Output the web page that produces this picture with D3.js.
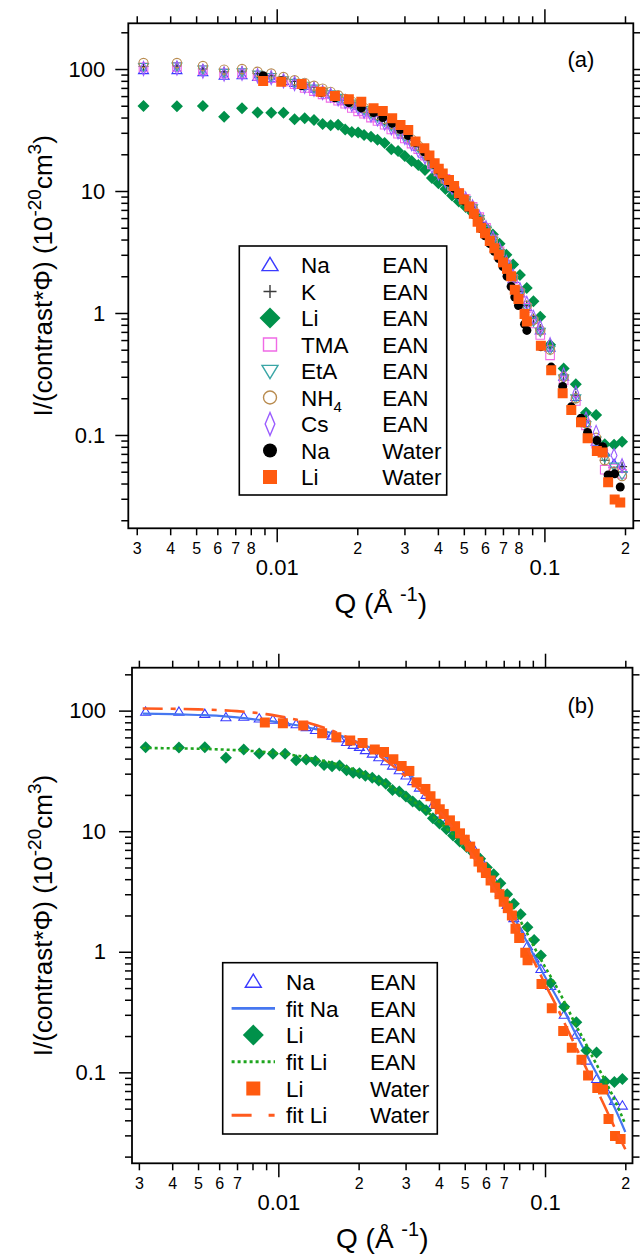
<!DOCTYPE html>
<html>
<head>
<meta charset="utf-8">
<script src="https://cdn.jsdelivr.net/npm/d3@7"></script>
<style>
  body { margin: 0; background: #fff; }
  svg { display: block; font-family: "Liberation Sans", Arial, sans-serif; }
</style>
</head>
<body>
<div id="vis"></div>
<script>

// ---- data ----

// Q grid of the EAN samples (A^-1)
var qEAN = [0.00318, 0.00424, 0.0053, 0.00636, 0.00742, 0.00848, 0.00954, 0.0106, 0.01166, 0.01272,
  0.01378, 0.01484, 0.0159, 0.01696, 0.01802, 0.01908, 0.02014, 0.0212, 0.0225, 0.0238,
  0.0253, 0.0268, 0.0284, 0.0301, 0.0319, 0.0338, 0.0358, 0.038, 0.0402, 0.0427,
  0.0452, 0.0479, 0.0508, 0.0539, 0.0571, 0.0605, 0.0642, 0.068, 0.0721, 0.0764,
  0.081, 0.0859, 0.091, 0.0965, 0.105, 0.118, 0.131, 0.143, 0.156, 0.168, 0.182, 0.195];

var iNaEAN = [98, 98, 94, 88, 89, 86, 84, 80, 77, 73, 69, 65, 62, 59, 55, 52, 50, 47,
  44, 41, 38, 35, 32, 29, 26, 23, 20, 16.5, 14, 12, 10.5, 9.3, 8.4, 7.2, 5.9, 4.8, 3.9, 3.1, 2.45, 1.9, 1.45, 1.12, 0.88,
  0.72, 0.52, 0.30, 0.205, 0.125, 0.088, 0.072, 0.058, 0.053];
var iKEAN = [105, 106, 100, 95, 96, 92, 88, 83, 79, 75, 71, 67, 63, 60, 56, 53, 50, 47,
  44, 41, 38, 35, 32, 29, 26, 23, 20, 17, 14.3, 12.2, 10.6, 9.4, 8.5, 7.3, 6.0, 4.9, 4.0, 3.2, 2.5, 1.95, 1.5, 1.15, 0.9,
  0.74, 0.53, 0.31, 0.21, 0.13, 0.09, 0.062, 0.05, 0.055];
var iLiEAN = [49.8, 49.5, 49.8, 40.7, 47.6, 44.1, 43.8, 43.8, 38.7, 39.4, 38.2, 35.4, 34.6, 35, 32, 30.5, 30.2, 28.8,
  27.8, 26.3, 24.8, 22, 21.3, 19.4, 17.6, 16.3, 14.9, 12.8, 11.6, 10.4, 9.2, 8.2, 7.4, 6.6, 5.9, 5.0, 4.4, 3.7, 3.0, 2.5, 2.05, 1.6, 1.25,
  0.93, 0.55, 0.35, 0.26, 0.152, 0.146, 0.084, 0.083, 0.088];
var iTMAEAN = [103, 104, 98, 92, 92, 88, 84, 79, 75, 70, 66, 62, 58, 55, 52, 48, 45, 43,
  40, 37.5, 35, 32, 29.5, 27, 24.5, 22, 19.5, 16.5, 14.5, 12.6, 11, 9.6, 8.6, 7.4, 6.1, 5.0, 4.0, 3.2, 2.5, 1.9, 1.45, 1.1, 0.82,
  0.66, 0.45, 0.28, 0.19, 0.12, 0.085, 0.052, 0.053, 0.048];
var iEtAEAN = [104, 105, 99, 93, 94, 90, 86, 81, 77, 73, 69, 65, 62, 58, 55, 52, 49, 46,
  43, 40, 37, 34, 31, 28, 25.5, 22.5, 19.5, 16.5, 14, 12, 10.5, 9.3, 8.4, 7.2, 5.9, 4.8, 3.9, 3.1, 2.45, 1.9, 1.45, 1.1, 0.85,
  0.7, 0.5, 0.29, 0.2, 0.12, 0.09, 0.065, 0.055, 0.047];
var iNH4EAN = [112, 112, 106, 99, 100, 95, 92, 86, 81, 77, 73, 69, 65, 61, 57, 54, 51, 48,
  45, 42, 39, 35.5, 32.5, 29.5, 26.5, 23.5, 20.5, 17, 14.5, 12.4, 10.8, 9.5, 8.5, 7.3, 6.0, 4.9, 4.0, 3.2, 2.5, 1.95, 1.5, 1.15, 0.88,
  0.72, 0.5, 0.3, 0.2, 0.125, 0.095, 0.062, 0.05, 0.046];
var iCsEAN = [101, 102, 96, 91, 92, 88, 85, 80, 76, 72, 68, 64, 61, 57, 54, 51, 48, 45,
  42, 39, 36, 33, 30.5, 27.5, 24.5, 21.5, 19, 16, 14, 12.2, 10.7, 9.5, 8.6, 7.4, 6.1, 5.0, 4.1, 3.3, 2.6, 2.0, 1.55, 1.2, 0.92,
  0.76, 0.55, 0.31, 0.22, 0.135, 0.105, 0.075, 0.068, 0.056];

// Q grid of the water samples
var qWater = [0.0089, 0.0104, 0.0124, 0.0146, 0.0165, 0.0186, 0.0207, 0.023, 0.0249, 0.027,
  0.029, 0.031, 0.033, 0.0356, 0.0372, 0.0389, 0.0403, 0.0417, 0.044, 0.046,
  0.048, 0.05, 0.0524, 0.0545, 0.0563, 0.058, 0.06, 0.0625, 0.065, 0.0675,
  0.07, 0.0725, 0.0751, 0.0775, 0.08, 0.0843, 0.086, 0.097, 0.106, 0.117,
  0.126, 0.137, 0.145, 0.157, 0.165, 0.173, 0.183, 0.192];

var iNaWater = [88, 80, 73, 64, 58, 53, 48, 44, 40, 36, 32, 28.5, 25, 21, 19, 16.5, 14.8, 13.5, 11.8, 10.5,
  9.3, 8.3, 7.3, 6.4, 5.6, 4.9, 4.3, 3.7, 3.2, 2.8, 2.4, 2.0, 1.65, 1.35, 1.15, 0.81, 0.72, 0.53, 0.36, 0.25,
  0.17, 0.137, 0.105, 0.09, 0.08, 0.047, 0.048, 0.0375];
var iLiWater = [79.7, 78.7, 75.3, 65, 60, 56.4, 53.9, 47.6, 45.3, 39.5, 34.7, 31.6, 25.4, 22.4, 19.5, 16.9, 15.2, 13.9, 12.3, 11,
  9.6, 8.5, 7.45, 6.5, 5.6, 5.0, 4.5, 3.9, 3.4, 3.0, 2.6, 2.3, 2.0, 1.55, 1.3, 0.98, 0.85, 0.54, 0.34, 0.22,
  0.16, 0.127, 0.094, 0.074, 0.072, 0.041, 0.0296, 0.028];

// model fits, panel (b)
var qFit = [0.0031, 0.004, 0.005, 0.006, 0.007, 0.008, 0.009, 0.010, 0.011, 0.012,
  0.0135, 0.015, 0.0165, 0.018, 0.02, 0.022, 0.024, 0.026, 0.028, 0.030,
  0.033, 0.036, 0.039, 0.042, 0.045, 0.048, 0.052, 0.056, 0.06, 0.065,
  0.07, 0.075, 0.08, 0.086, 0.093, 0.1, 0.11, 0.12, 0.13, 0.14, 0.15, 0.165, 0.18, 0.2];
var fitNaEAN = [94.5, 93.5, 92, 90.5, 88, 85, 82.5, 80, 77.5, 75, 71, 67.5, 63.5, 59.5, 54.5, 49.5, 44.5, 40, 35.5, 31.5,
  26, 21.5, 17.5, 14.2, 11.5, 9.5, 7.5, 6.0, 4.75, 3.6, 2.75, 2.1, 1.6, 1.18, 0.84, 0.62, 0.43, 0.30, 0.21, 0.155,
  0.115, 0.078, 0.054, 0.032];
var fitLiEAN = [49, 48.7, 48.3, 47.7, 47, 46.2, 45.3, 44.3, 43.2, 42, 40, 38, 36, 34, 31.3, 28.6, 26, 23.8, 21.6, 19.6,
  16.9, 14.6, 12.6, 10.9, 9.5, 8.3, 6.95, 5.8, 4.85, 3.85, 3.05, 2.4, 1.88, 1.4, 1.0, 0.75, 0.52, 0.36, 0.25, 0.185,
  0.137, 0.092, 0.063, 0.037];
var fitLiWater = [104, 103.5, 102.5, 101, 99, 96.5, 93.5, 90, 86.5, 83, 77, 71.5, 66, 60.5, 53.5, 47.5, 42, 37, 32.5, 28.5,
  23.5, 19.3, 15.8, 13, 10.7, 8.8, 6.9, 5.4, 4.3, 3.2, 2.4, 1.85, 1.42, 1.05, 0.75, 0.54, 0.36, 0.24, 0.165, 0.118,
  0.086, 0.056, 0.037, 0.023];

// ticks
var xMajorTicks = [0.01, 0.1];
var xMajorLabels = ['0.01', '0.1'];
var xMinorTicks = [0.003, 0.004, 0.005, 0.006, 0.007, 0.008, 0.009,
  0.02, 0.03, 0.04, 0.05, 0.06, 0.07, 0.08, 0.09, 0.2];
var xMinorLabelsA = ['3', '4', '5', '6', '7', '8', '', '2', '3', '4', '5', '6', '7', '8', '', '2'];
var xMinorLabelsB = ['3', '4', '5', '6', '7', '', '', '2', '3', '4', '5', '6', '7', '', '', '2'];
var yMajorTicks = [0.1, 1, 10, 100];
var yMajorLabels = ['0.1', '1', '10', '100'];

// ---- styles ----
var seriesA = [
  { name: 'Na', solvent: 'EAN', q: qEAN, I: iNaEAN, shape: 'triUp', color: '#3a3aff', r: 5, lr: 8 },
  { name: 'K', solvent: 'EAN', q: qEAN, I: iKEAN, shape: 'plus', color: '#3a3a3a', r: 5, lr: 6.5 },
  { name: 'Li', solvent: 'EAN', q: qEAN, I: iLiEAN, shape: 'diamond', color: '#00914a', fill: true, r: 6, lr: 10.5 },
  { name: 'TMA', solvent: 'EAN', q: qEAN, I: iTMAEAN, shape: 'square', color: '#f06ae6', r: 4.3, lr: 6.5 },
  { name: 'EtA', solvent: 'EAN', q: qEAN, I: iEtAEAN, shape: 'triDown', color: '#3aa6a6', r: 5, lr: 8 },
  { name: 'NH', sub: '4', solvent: 'EAN', q: qEAN, I: iNH4EAN, shape: 'circle', color: '#b98c50', r: 4.6, lr: 6.5 },
  { name: 'Cs', solvent: 'EAN', q: qEAN, I: iCsEAN, shape: 'narrow', color: '#9a5cff', r: 7, lr: 11.5 },
  { name: 'Na', solvent: 'Water', q: qWater, I: iNaWater, shape: 'circle', color: '#000', fill: true, r: 4.5, lr: 7 },
  { name: 'Li', solvent: 'Water', q: qWater, I: iLiWater, shape: 'square', color: '#ff5a0f', fill: true, r: 5, lr: 7 }
];

var seriesB = [
  { name: 'Na', solvent: 'EAN', q: qEAN, I: iNaEAN, shape: 'triUp', color: '#3a3aff', r: 5, lr: 8 },
  { name: 'fit Na', solvent: 'EAN', q: qFit, I: fitNaEAN, line: true, color: '#4677f0', width: 2.2 },
  { name: 'Li', solvent: 'EAN', q: qEAN, I: iLiEAN, shape: 'diamond', color: '#00914a', fill: true, r: 6, lr: 10.5 },
  { name: 'fit Li', solvent: 'EAN', q: qFit, I: fitLiEAN, line: true, color: '#1ea51e', width: 2.6, dash: '3,3' },
  { name: 'Li', solvent: 'Water', q: qWater, I: iLiWater, shape: 'square', color: '#ff5a0f', fill: true, r: 5, lr: 7 },
  { name: 'fit Li', solvent: 'Water', q: qFit, I: fitLiWater, line: true, color: '#ff5a1e', width: 2.6,
    dash: '20,8,5,8', legendDash: '20,17,6,20' }
];

var panels = [
  { label: '(a)', left: 128.3, right: 633.3, top: 23.3, bottom: 528.3,
    xDomain: [0.00279, 0.2148], yDomain: [0.01718, 237], yPad: 10,
    xMinorLabels: xMinorLabelsA, series: seriesA,
    legend: { x: 239.3, y: 246, w: 207.4, h: 249, row0: 265, step: 26.5, sym: 270, name: 301, solvent: 382.3 } },
  { label: '(b)', left: 132, right: 632.5, top: 667.7, bottom: 1163.3,
    xDomain: [0.002827, 0.2128], yDomain: [0.0176, 227], yPad: 13,
    xMinorLabels: xMinorLabelsB, series: seriesB,
    legend: { x: 222.7, y: 962.7, w: 214.6, h: 171.3, row0: 981.7, step: 26.7, sym: 253.3, name: 286, solvent: 370 } }
];

var svg = d3.select('#vis').append('svg')
  .attr('width', 640)
  .attr('height', 1257);

svg.append('rect').attr('width', 640).attr('height', 1257).attr('fill', '#fff');

/**
 * markerPath - path string for a marker of half size r
 */
function markerPath(type, r) {
  var p = d3.path();
  if (type === 'triUp') {
    p.moveTo(0, -0.95 * r); p.lineTo(r, 0.7 * r); p.lineTo(-r, 0.7 * r); p.closePath();
  } else if (type === 'triDown') {
    p.moveTo(0, 0.95 * r); p.lineTo(r, -0.7 * r); p.lineTo(-r, -0.7 * r); p.closePath();
  } else if (type === 'plus') {
    p.moveTo(-r, 0); p.lineTo(r, 0); p.moveTo(0, -r); p.lineTo(0, r);
  } else if (type === 'diamond') {
    p.moveTo(0, -r); p.lineTo(r, 0); p.lineTo(0, r); p.lineTo(-r, 0); p.closePath();
  } else if (type === 'narrow') {
    p.moveTo(0, -r); p.lineTo(0.42 * r, 0); p.lineTo(0, r); p.lineTo(-0.42 * r, 0); p.closePath();
  } else if (type === 'square') {
    p.rect(-r, -r, 2 * r, 2 * r);
  } else {
    p.moveTo(r, 0); p.arc(0, 0, r, 0, 2 * Math.PI);
  }
  return p.toString();
}

function styleMarker(sel, s, lw) {
  sel.attr('fill', s.fill ? s.color : 'none')
    .attr('stroke', s.fill ? 'none' : s.color)
    .attr('stroke-width', lw);
}

function styleAxis(ax) {
  ax.select('.domain').remove();
  ax.selectAll('line').attr('stroke', '#000').attr('stroke-width', 1.5);
  ax.selectAll('text').attr('fill', '#000').attr('font-family', '"Liberation Sans", Arial, sans-serif');
}

/**
 * drawPanel - frame, axes, data, legend of one panel
 */
var drawPanel = function (cfg) {
  var x = d3.scaleLog().domain(cfg.xDomain).range([cfg.left, cfg.right]);
  var y = d3.scaleLog().domain(cfg.yDomain).range([cfg.bottom, cfg.top]);
  var g = svg.append('g');

  var yMinorTicks = [0.01, 0.1, 1, 10, 100]
    .flatMap(function (d) { return d3.range(2, 10).map(function (k) { return k * d; }); })
    .filter(function (v) { return v > cfg.yDomain[0] && v < cfg.yDomain[1]; });

  // bottom axis: minor digits then the decade labels
  var ax = g.append('g').attr('transform', 'translate(0,' + cfg.bottom + ')')
    .call(d3.axisBottom(x).tickValues(xMinorTicks).tickSize(7).tickPadding(7.5)
      .tickFormat(function (d, i) { return cfg.xMinorLabels[i]; }));
  styleAxis(ax);
  ax.selectAll('text').attr('font-size', 16);

  ax = g.append('g').attr('transform', 'translate(0,' + cfg.bottom + ')')
    .call(d3.axisBottom(x).tickValues(xMajorTicks).tickSize(14).tickPadding(17)
      .tickFormat(function (d, i) { return xMajorLabels[i]; }));
  styleAxis(ax);
  ax.selectAll('text').attr('font-size', 22);

  // top axis, no labels
  [[xMinorTicks, 7], [xMajorTicks, 14]].forEach(function (t) {
    var a = g.append('g').attr('transform', 'translate(0,' + cfg.top + ')')
      .call(d3.axisTop(x).tickValues(t[0]).tickSize(t[1]).tickFormat(''));
    styleAxis(a);
  });

  // left axis
  ax = g.append('g').attr('transform', 'translate(' + cfg.left + ',0)')
    .call(d3.axisLeft(y).tickValues(yMinorTicks).tickSize(7).tickFormat(''));
  styleAxis(ax);
  ax = g.append('g').attr('transform', 'translate(' + cfg.left + ',0)')
    .call(d3.axisLeft(y).tickValues(yMajorTicks).tickSize(13).tickPadding(cfg.yPad)
      .tickFormat(function (d, i) { return yMajorLabels[i]; }));
  styleAxis(ax);
  ax.selectAll('text').attr('font-size', 22);

  // right axis, no labels
  [[yMinorTicks, 7], [yMajorTicks, 13]].forEach(function (t) {
    var a = g.append('g').attr('transform', 'translate(' + cfg.right + ',0)')
      .call(d3.axisRight(y).tickValues(t[0]).tickSize(t[1]).tickFormat(''));
    styleAxis(a);
  });

  g.append('rect')
    .attr('x', cfg.left).attr('y', cfg.top)
    .attr('width', cfg.right - cfg.left).attr('height', cfg.bottom - cfg.top)
    .attr('fill', 'none').attr('stroke', '#000').attr('stroke-width', 1.8);

  // data
  var clipId = 'clip' + cfg.label.replace(/\W/g, '');
  g.append('clipPath').attr('id', clipId).append('rect')
    .attr('x', cfg.left).attr('y', cfg.top)
    .attr('width', cfg.right - cfg.left).attr('height', cfg.bottom - cfg.top);
  var plot = g.append('g').attr('clip-path', 'url(#' + clipId + ')');

  var line = d3.line()
    .x(function (d) { return x(d[0]); })
    .y(function (d) { return y(d[1]); })
    .curve(d3.curveMonotoneX);

  cfg.series.forEach(function (s) {
    var pts = s.q.map(function (q, i) { return [q, s.I[i]]; });
    if (s.line) {
      plot.append('path').datum(pts)
        .attr('d', line)
        .attr('fill', 'none')
        .attr('stroke', s.color)
        .attr('stroke-width', s.width)
        .attr('stroke-dasharray', s.dash || null);
    } else {
      plot.append('g').selectAll('path').data(pts).enter().append('path')
        .attr('transform', function (d) { return 'translate(' + x(d[0]) + ',' + y(d[1]) + ')'; })
        .attr('d', markerPath(s.shape, s.r))
        .call(styleMarker, s, 1.1);
    }
  });

  // panel tag
  g.append('text')
    .attr('x', 581).attr('y', cfg.top + (cfg.label === '(a)' ? 44 : 45))
    .attr('text-anchor', 'middle')
    .attr('font-size', 22)
    .text(cfg.label);

  // axis titles
  var cx = (cfg.left + cfg.right) / 2;
  var qt = g.append('text')
    .attr('x', cx).attr('y', cfg.bottom + 85)
    .attr('text-anchor', 'middle')
    .attr('font-size', 28);
  qt.append('tspan').text('Q (Å ');
  qt.append('tspan').attr('dy', -12).attr('font-size', 20).text('-1');
  qt.append('tspan').attr('dy', 12).text(')');

  var yt = g.append('text')
    .attr('transform', 'translate(52,' + (cfg.top + cfg.bottom) / 2 + ') rotate(-90)')
    .attr('text-anchor', 'middle')
    .attr('font-size', 26);
  yt.append('tspan').text('I/(contrast*Φ) (10');
  yt.append('tspan').attr('dy', -11).attr('font-size', 19).text('-20');
  yt.append('tspan').attr('dy', 11).text('cm');
  yt.append('tspan').attr('dy', -11).attr('font-size', 19).text('3');
  yt.append('tspan').attr('dy', 11).text(')');

  // legend
  var L = cfg.legend;
  var lg = g.append('g');
  lg.append('rect')
    .attr('x', L.x).attr('y', L.y).attr('width', L.w).attr('height', L.h)
    .attr('fill', '#fff').attr('stroke', '#000').attr('stroke-width', 1.6);

  cfg.series.forEach(function (s, i) {
    var ry = L.row0 + i * L.step;
    if (s.line) {
      lg.append('line')
        .attr('x1', L.sym - 21.7).attr('x2', L.sym + 21.7)
        .attr('y1', ry).attr('y2', ry)
        .attr('stroke', s.color)
        .attr('stroke-width', s.width + 0.4)
        .attr('stroke-dasharray', s.legendDash || s.dash || null);
    } else {
      lg.append('path')
        .attr('transform', 'translate(' + L.sym + ',' + ry + ')')
        .attr('d', markerPath(s.shape, s.lr))
        .call(styleMarker, s, 1.4);
    }
    var t = lg.append('text').attr('x', L.name).attr('y', ry).attr('dy', '0.36em').attr('font-size', 22.5);
    t.append('tspan').text(s.name);
    if (s.sub) t.append('tspan').attr('dy', 6).attr('font-size', 15).text(s.sub);
    lg.append('text').attr('x', L.solvent).attr('y', ry).attr('dy', '0.36em').attr('font-size', 22.5).text(s.solvent);
  });
};

panels.forEach(drawPanel);

</script>
</body>
</html>
